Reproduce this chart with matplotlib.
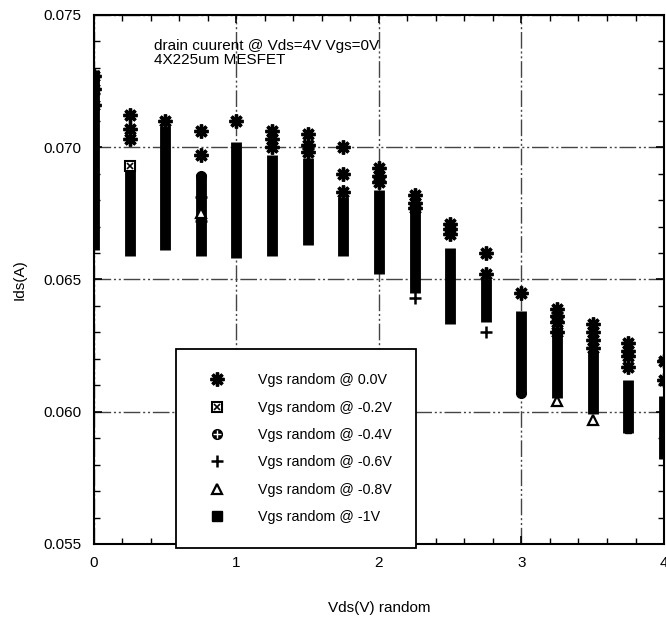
import matplotlib
matplotlib.use('Agg')
import matplotlib.pyplot as plt
from matplotlib.lines import Line2D
from matplotlib.ticker import MultipleLocator

plt.rcParams['font.family'] = ['Liberation Sans', 'DejaVu Sans']

# bias points (Vds) of the Monte Carlo runs
vds = [0.0, 0.25, 0.5, 0.75, 1.0, 1.25, 1.5, 1.75, 2.0,
       2.25, 2.5, 2.75, 3.0, 3.25, 3.5, 3.75, 4.0]

# dense spread of Ids where all Vgs series overlap (A)
band_hi = [0.0729, 0.0694, 0.0708, 0.0690, 0.0702, 0.0697, 0.0696, 0.0681, 0.0684,
           0.0677, 0.0662, 0.0650, 0.0638, 0.0632, 0.0623, 0.0612, 0.0606]
band_lo = [0.0661, 0.0659, 0.0661, 0.0659, 0.0658, 0.0659, 0.0663, 0.0659, 0.0652,
           0.0645, 0.0633, 0.0634, 0.0607, 0.0605, 0.0599, 0.0592, 0.0582]

# isolated samples, Vgs random @ 0.0V
vgs0_x = [0.0, 0.0, 0.0, 0.25, 0.25, 0.25, 0.5, 0.75, 0.75, 1.0,
          1.25, 1.25, 1.25, 1.5, 1.5, 1.5, 1.75, 1.75, 1.75,
          2.0, 2.0, 2.0, 2.25, 2.25, 2.25, 2.5, 2.5, 2.5, 2.75, 2.75, 3.0,
          3.25, 3.25, 3.25, 3.25, 3.5, 3.5, 3.5, 3.5, 3.75, 3.75, 3.75, 3.75,
          4.0, 4.0]
vgs0_y = [0.0727, 0.0722, 0.0716, 0.0712, 0.0707, 0.0703, 0.0710, 0.0706, 0.0697, 0.0710,
          0.0706, 0.0703, 0.0700, 0.0705, 0.0701, 0.0698, 0.0700, 0.0690, 0.0683,
          0.0692, 0.0689, 0.0687, 0.0682, 0.0679, 0.0677, 0.0671, 0.0669, 0.0667, 0.0660, 0.0652, 0.0645,
          0.0639, 0.0636, 0.0634, 0.0630, 0.0633, 0.0630, 0.0627, 0.0624, 0.0626, 0.0623, 0.0621, 0.0617,
          0.0619, 0.0612]

# isolated samples of the other series
vgs02_x = [0.25]
vgs02_y = [0.0693]
vgs04_x = [0.75, 3.0]
vgs04_y = [0.0689, 0.0607]
vgs06_x = [0.75, 0.75, 2.25, 2.75]
vgs06_y = [0.0681, 0.0672, 0.0643, 0.0630]
vgs08_x = [0.75, 3.25, 3.5]
vgs08_y = [0.0675, 0.0604, 0.0597]
vgs10_x = [3.75]
vgs10_y = [0.0593]

labels = ['Vgs random @ 0.0V', 'Vgs random @ -0.2V', 'Vgs random @ -0.4V',
          'Vgs random @ -0.6V', 'Vgs random @ -0.8V', 'Vgs random @ -1V']

fig = plt.figure(figsize=(6.66, 6.28), dpi=100)
ax = fig.add_axes([0.1411, 0.1338, 0.8559, 0.8424])

ax.set_xlim(0, 4)
ax.set_ylim(0.055, 0.075)

ax.vlines(vds, band_lo, band_hi, colors='black', linewidth=7.8, zorder=3)

star = dict(marker=(8, 2, 0), linestyle='none', color='black',
            markersize=10, markeredgewidth=2.4)
ax.plot(vgs0_x, vgs0_y, zorder=4, **star)
ax.plot(vgs02_x, vgs02_y, marker='s', mfc='white', mec='black', ms=7, mew=1.5, ls='none', zorder=4)
ax.plot(vgs02_x, vgs02_y, marker='x', color='black', ms=5, mew=1.2, ls='none', zorder=5)
ax.plot(vgs04_x, vgs04_y, marker='o', mfc='black', mec='black', ms=7, ls='none', zorder=4)
ax.plot(vgs06_x, vgs06_y, marker='+', color='black', ms=9, mew=1.8, ls='none', zorder=4)
ax.plot(vgs08_x, vgs08_y, marker='^', mfc='white', mec='black', ms=7, mew=1.6, ls='none', zorder=4)
ax.plot(vgs10_x, vgs10_y, marker='s', color='black', ms=5, ls='none', zorder=4)

ax.xaxis.set_major_locator(MultipleLocator(1))
ax.xaxis.set_minor_locator(MultipleLocator(0.2))
ax.yaxis.set_major_locator(MultipleLocator(0.005))
ax.yaxis.set_minor_locator(MultipleLocator(0.001))
ax.yaxis.set_major_formatter(plt.FormatStrFormatter('%.3f'))
ax.tick_params(which='both', direction='in', top=True, right=True, labelsize=11, color='black')
ax.tick_params(which='major', length=6, width=1.2, pad=9)
ax.tick_params(which='minor', length=4, width=1.0)
for s in ax.spines.values():
    s.set_linewidth(1.5)

ax.grid(True, which='major', color='#444444', linewidth=1.0, dashes=(12, 2, 1.5, 2, 1.5, 2))
ax.set_axisbelow(True)

ax.set_xlabel('Vds(V) random', fontsize=11, labelpad=22)
ax.set_ylabel('Ids(A)', fontsize=11, labelpad=12)

ax.text(0.105, 0.955, 'drain cuurent @ Vds=4V Vgs=0V\n4X225um MESFET',
        transform=ax.transAxes, fontsize=11, va='top', ha='left', linespacing=1.05, zorder=2)

# legend proxies
h0 = Line2D([], [], **star)
h1a = Line2D([], [], marker='s', mfc='white', mec='black', ms=7, mew=1.5, ls='none')
h1b = Line2D([], [], marker='x', color='black', ms=5, mew=1.2, ls='none')
h2a = Line2D([], [], marker='o', mfc='black', mec='black', ms=7, ls='none')
h2b = Line2D([], [], marker='+', color='white', ms=6, mew=1.0, ls='none')
h3 = Line2D([], [], marker='+', color='black', ms=9, mew=1.8, ls='none')
h4 = Line2D([], [], marker='^', mfc='white', mec='black', ms=7, mew=1.6, ls='none')
h5 = Line2D([], [], marker='s', color='black', ms=7, ls='none')
leg = ax.legend([h0, (h1a, h1b), (h2a, h2b), h3, h4, h5], labels,
                loc='upper left', bbox_to_anchor=(0.1439, 0.3686), borderaxespad=0,
                fontsize=10.3, frameon=True, fancybox=False, framealpha=1,
                edgecolor='black', borderpad=1.7, labelspacing=0.93,
                handlelength=2.34, handletextpad=1.7)
leg.get_frame().set_linewidth(1.3)
leg.set_zorder(6)

fig.savefig('out.png', dpi=100)
